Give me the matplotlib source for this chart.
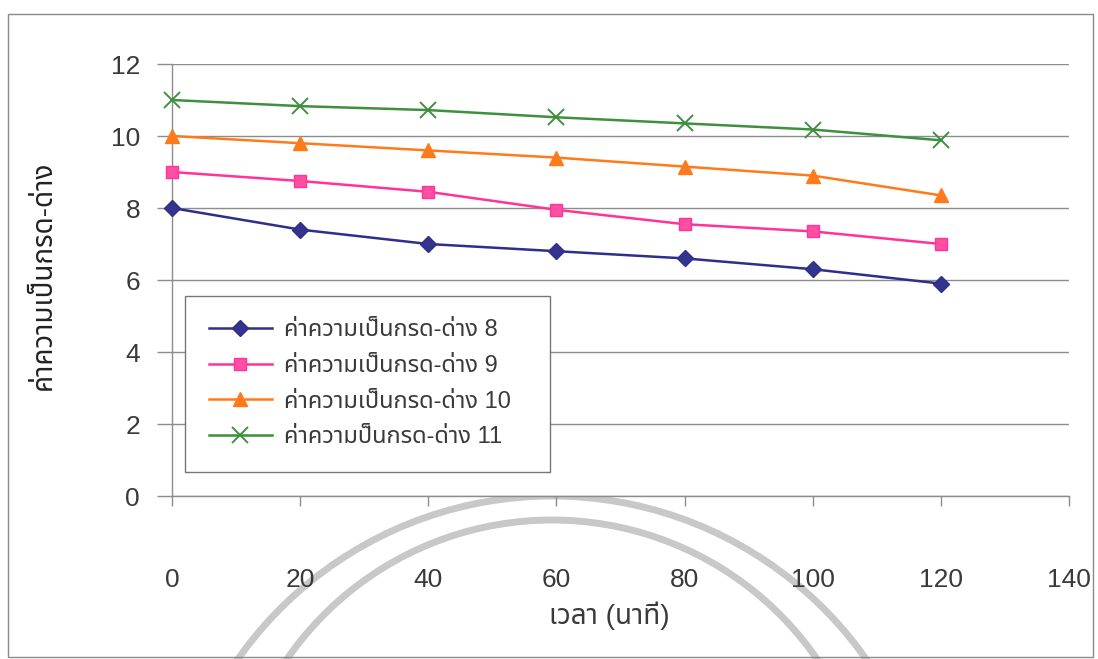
import numpy as np
import matplotlib
matplotlib.use("Agg")
import matplotlib.pyplot as plt
import matplotlib.font_manager as fm
from matplotlib.ft2font import FT2Font
from matplotlib.patches import Arc, Rectangle

# ---- pick a font that has Thai glyphs ----
preferred = ["Noto Sans Thai", "Noto Sans Thai UI", "Loma", "Garuda", "Tahoma",
             "Leelawadee UI", "Waree", "Umpush", "Sawasdee", "Norasi", "Kinnari"]
available = {f.name for f in fm.fontManager.ttflist}
thai_font = next((n for n in preferred if n in available), None)
if thai_font is None:
    for f in fm.fontManager.ttflist:
        try:
            if 0x0E04 in FT2Font(f.fname).get_charmap():
                thai_font = f.name
                break
        except Exception:
            pass

latin = "Liberation Sans" if "Liberation Sans" in available else "DejaVu Sans"
families = [latin] + ([thai_font] if thai_font else []) + ["DejaVu Sans"]
plt.rcParams["font.family"] = families
plt.rcParams["axes.unicode_minus"] = False

# ---- data: pH over time ----
time_min = [0, 20, 40, 60, 80, 100, 120]
ph8 = [8.0, 7.4, 7.0, 6.8, 6.6, 6.3, 5.9]
ph9 = [9.0, 8.75, 8.45, 7.95, 7.55, 7.35, 7.0]
ph10 = [10.0, 9.8, 9.6, 9.4, 9.15, 8.9, 8.35]
ph11 = [11.0, 10.83, 10.72, 10.52, 10.35, 10.18, 9.88]

labels = ["ค่าความเป็นกรด-ด่าง 8", "ค่าความเป็นกรด-ด่าง 9",
          "ค่าความเป็นกรด-ด่าง 10", "ค่าความป็นกรด-ด่าง 11"]
x_ticks = [0, 20, 40, 60, 80, 100, 120, 140]
y_ticks = [0, 2, 4, 6, 8, 10, 12]

W, H = 1098, 659
fig = plt.figure(figsize=(W / 100, H / 100), dpi=100)
fig.patch.set_facecolor("white")

# axes box in pixel units -> figure fraction
x0, x1, y0, y1 = 172, 1069, 64, 496
ax = fig.add_axes([x0 / W, 1 - y1 / H, (x1 - x0) / W, (y1 - y0) / H])

styles = [
    dict(color="#2E2E8C", marker="D", ms=8, mfc="#34348F", mec="#2E2E8C"),
    dict(color="#FF3399", marker="s", ms=8, mfc="#FF4FA3", mec="#FF3399"),
    dict(color="#FF7A1A", marker="^", ms=10, mfc="#FF7A1A", mec="#FF7A1A"),
    dict(color="#3F8F3F", marker="x", ms=11, mew=1.4),
]
for ys, lab, st in zip([ph8, ph9, ph10, ph11], labels, styles):
    ax.plot(time_min, ys, lw=1.8, label=lab, clip_on=False, zorder=3, **st)

ax.set_xlim(0, 140)
ax.set_ylim(0, 12)
ax.set_xticks(x_ticks)
ax.set_yticks(y_ticks)
ax.grid(axis="y", color="#8C8C8C", lw=1.0)
ax.set_axisbelow(True)
for side in ["top", "right"]:
    ax.spines[side].set_visible(False)
for side in ["left", "bottom"]:
    ax.spines[side].set_color("#8C8C8C")
    ax.spines[side].set_linewidth(1.0)

ax.tick_params(axis="y", direction="out", length=11, width=1.0, color="#8C8C8C",
               pad=12, labelsize=19, labelcolor="#3A3A3A")
ax.tick_params(axis="x", direction="out", length=7, width=1.0, color="#8C8C8C",
               pad=45, labelsize=19, labelcolor="#3A3A3A")

ax.set_xlabel("เวลา (นาที)", fontsize=20, color="#3A3A3A")
ax.xaxis.set_label_coords(0.488, -0.245)
ax.set_ylabel("ค่าความเป็นกรด-ด่าง", fontsize=20, color="#222222")
ax.yaxis.set_label_coords(-0.128, 0.51)

leg = ax.legend(loc="lower left", bbox_to_anchor=(0.0145, 0.056, 0.407, 0.398),
                mode="expand", borderaxespad=0, fancybox=False, framealpha=1,
                edgecolor="#777777", fontsize=17, handlelength=2.7,
                handletextpad=0.5, labelspacing=0.58, borderpad=1.0,
                labelcolor="#3A3A3A")
leg.get_frame().set_linewidth(1.0)

# watermark arcs behind the lower part
for cy, r in [(880, 384), (842, 322)]:
    fig.add_artist(Arc((552 / W, 1 - cy / H), 2 * r / W, 2 * r / H,
                       theta1=20, theta2=160, transform=fig.transFigure,
                       color="#C8C8C8", lw=5, zorder=0))

# outer frame
fig.add_artist(Rectangle((8 / W, 1 - 657 / H), (1093 - 8) / W, (657 - 14) / H,
                         transform=fig.transFigure, fill=False,
                         edgecolor="#8A8A8A", lw=1.0))

fig.savefig("out.png", dpi=100)
